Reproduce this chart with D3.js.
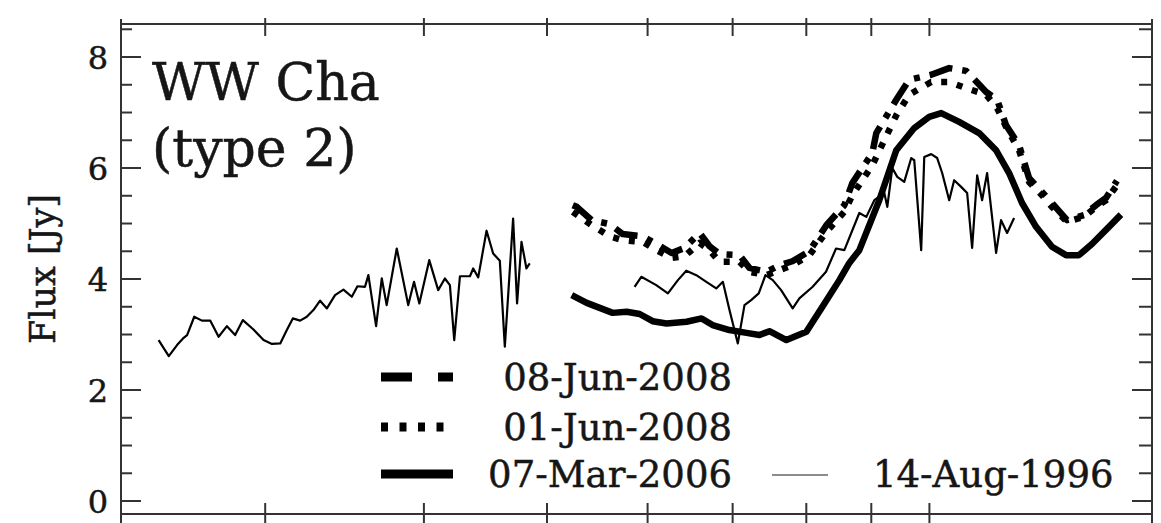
<!DOCTYPE html>
<html>
<head>
<meta charset="utf-8">
<script src="https://cdn.jsdelivr.net/npm/d3@7"></script>
<style>
  html, body { margin: 0; padding: 0; background: #fff; }
  svg { display: block; }
  text { font-family: "DejaVu Serif", "Liberation Serif", serif; fill: #161616; stroke: #161616; stroke-width: 0.5; }
</style>
</head>
<body>
<svg id="chart" width="1161" height="523"></svg>
<script>
// Mid-infrared spectra of WW Cha at four epochs: [wavelength (µm), flux (Jy)]
const aug1996a = [
  [2.473,2.90],[2.519,2.61],[2.557,2.81],[2.588,2.94],[2.604,2.99],[2.638,3.32],[2.675,3.25],
  [2.716,3.25],[2.757,2.96],[2.799,3.15],[2.841,2.99],[2.881,3.26],[2.937,3.09],[2.991,2.90],
  [3.037,2.83],[3.083,2.84],[3.120,3.08],[3.154,3.29],[3.196,3.25],[3.235,3.32],[3.274,3.44],
  [3.314,3.61],[3.355,3.47],[3.405,3.71],[3.457,3.81],[3.510,3.68],[3.546,3.87],[3.595,3.86],
  [3.617,4.07],[3.668,3.15],[3.706,4.01],[3.739,3.53],[3.808,4.55],[3.888,3.53],[3.929,3.95],
  [3.967,3.56],[4.039,4.34],[4.105,3.80],[4.155,4.01],[4.193,3.89],[4.226,2.90],[4.270,4.05],
  [4.348,4.05],[4.374,4.19],[4.414,4.03],[4.481,4.87],[4.535,4.46],[4.590,4.33],[4.632,2.78],
  [4.702,5.09],[4.736,3.56],[4.774,4.67],[4.817,4.19],[4.846,4.28]
];
const aug1996b = [
  [5.860,3.86],[5.932,4.04],[6.095,3.89],[6.225,3.74],[6.339,3.98],[6.436,4.15],[6.554,4.07],
  [6.674,3.95],[6.795,3.83],[6.877,3.95],[6.960,3.44],[7.066,2.84],[7.152,3.53],[7.239,3.62],
  [7.339,3.74],[7.429,4.07],[7.528,3.98],[7.643,3.80],[7.805,3.47],[7.900,3.65],[8.093,3.86],
  [8.291,4.13],[8.443,4.55],[8.571,4.52],[8.807,5.19],[8.919,5.12],[9.050,5.42],[9.215,5.55],
  [9.265,5.30],[9.349,6.00],[9.434,5.84],[9.554,5.75],[9.676,6.18],[9.729,6.14],[9.852,4.52],
  [9.907,6.20],[10.032,6.25],[10.142,6.18],[10.234,5.91],[10.365,5.42],[10.459,5.78],[10.592,5.66],
  [10.708,5.55],[10.805,4.56],[10.904,5.87],[11.002,5.42],[11.103,5.91],[11.285,4.47],[11.387,5.06],
  [11.512,4.83],[11.659,5.10]
];
const mar2006 = [
  [5.229,3.71],[5.373,3.57],[5.501,3.48],[5.632,3.39],[5.777,3.41],[5.914,3.37],[6.055,3.24],
  [6.210,3.20],[6.439,3.23],[6.617,3.29],[6.750,3.17],[6.960,3.08],[7.178,3.03],[7.349,2.99],
  [7.483,3.06],[7.717,2.90],[8.001,3.05],[8.237,3.50],[8.494,3.98],[8.649,4.29],[8.807,4.52],
  [9.131,5.42],[9.417,6.32],[9.729,6.72],[9.996,6.92],[10.216,6.99],[10.554,6.83],[10.943,6.63],
  [11.285,6.32],[11.554,5.91],[11.828,5.37],[12.133,4.94],[12.488,4.58],[12.810,4.43],[13.114,4.43],
  [13.426,4.63],[13.846,4.94],[14.150,5.16]
];
const jun2008a = [
  [5.239,5.33],[5.277,5.30],[5.422,5.06],[5.601,4.99],[5.735,4.81],[5.947,4.77],[6.099,4.63],
  [6.267,4.47],[6.416,4.56],[6.593,4.83],[6.713,4.59],[6.836,4.45],[7.088,4.43],[7.217,4.20],
  [7.443,4.13],[7.620,4.25],[7.801,4.32],[8.045,4.50],[8.296,4.97],[8.571,5.33],[8.696,5.73],
  [9.017,6.27],[9.082,6.63],[9.417,7.23],[9.641,7.59],[10.032,7.68],[10.365,7.80],[10.689,7.75],
  [11.083,7.37],[11.306,7.23],[11.491,6.77],[11.765,6.41],[11.979,5.82],[12.264,5.57],[12.488,5.37],
  [12.833,5.06],[13.234,5.15],[13.525,5.33],[13.772,5.46],[14.048,5.77]
];
const jun2008b = [
  [5.239,5.21],[5.422,4.97],[5.601,4.77],[5.735,4.70],[5.947,4.67],[6.099,4.52],[6.267,4.38],
  [6.416,4.41],[6.593,4.65],[6.713,4.52],[6.836,4.31],[7.088,4.31],[7.217,4.13],[7.443,4.07],
  [7.620,4.16],[7.801,4.25],[8.045,4.43],[8.296,4.85],[8.571,5.21],[8.696,5.51],[9.017,6.05],
  [9.417,6.95],[9.641,7.32],[10.032,7.55],[10.365,7.55],[10.689,7.44],[11.083,7.32],[11.306,7.08],
  [11.491,6.74],[11.765,6.32],[11.979,5.75],[12.264,5.51],[12.488,5.30],[12.833,5.03],[13.234,5.12],
  [13.525,5.30],[13.772,5.42],[14.048,5.69]
];

const wavelengthTicks = [3, 4, 5, 6, 7, 8, 9, 10];
const fluxTicks = [0, 2, 4, 6, 8];
const fluxMinorTicks = [-0.5,0.5,1,1.5,2.5,3,3.5,4.5,5,5.5,6.5,7,7.5,8.5];
const fluxTickLabels = ["0", "2", "4", "6", "8"];
const titleLines = ["WW Cha", "(type 2)"];
const yLabel = "Flux [Jy]";
const legendLabels = ["08-Jun-2008", "01-Jun-2008", "07-Mar-2006", "14-Aug-1996"];

const svg = d3.select("#chart");
const L = 121, R = 1152, T = 24, B = 514;

const x = d3.scaleLog().domain([2.31, 14.97]).range([L, R]);
const y = d3.scaleLinear().domain([-0.234, 8.595]).range([B, T]);

const axisColor = "#333";

// frame: vertical sides run past the panel, as in a stacked figure
const frame = svg.append("g").attr("stroke", axisColor).attr("stroke-width", 2).attr("fill", "none");
frame.append("line").attr("x1", L).attr("x2", L).attr("y1", 19).attr("y2", 523);
frame.append("line").attr("x1", R).attr("x2", R).attr("y1", 19).attr("y2", 523);
frame.append("line").attr("x1", L).attr("x2", R).attr("y1", T).attr("y2", T);
frame.append("line").attr("x1", L).attr("x2", R).attr("y1", B).attr("y2", B);

// wavelength ticks on top and bottom edges
const xt = svg.append("g").attr("stroke", axisColor).attr("stroke-width", 2);
wavelengthTicks.forEach(v => {
  xt.append("line").attr("x1", x(v)).attr("x2", x(v)).attr("y1", T - 6).attr("y2", T + 12);
  xt.append("line").attr("x1", x(v)).attr("x2", x(v)).attr("y1", B - 11).attr("y2", B + 9);
});

// flux ticks on left and right edges
const yt = svg.append("g").attr("stroke", axisColor).attr("stroke-width", 2);
fluxTicks.forEach(v => {
  yt.append("line").attr("x1", L).attr("x2", L + 20).attr("y1", y(v)).attr("y2", y(v));
  yt.append("line").attr("x1", R - 20).attr("x2", R).attr("y1", y(v)).attr("y2", y(v));
});
fluxMinorTicks.forEach(v => {
  yt.append("line").attr("x1", L).attr("x2", L + 11).attr("y1", y(v)).attr("y2", y(v));
  yt.append("line").attr("x1", R - 13).attr("x2", R).attr("y1", y(v)).attr("y2", y(v));
});

fluxTicks.forEach((v, i) => {
  svg.append("text").attr("x", 98).attr("y", y(v) + 12)
    .attr("text-anchor", "middle").attr("font-size", 32).text(fluxTickLabels[i]);
});

svg.append("text").attr("transform", "translate(55,269) rotate(-90)")
  .attr("text-anchor", "middle").attr("font-size", 35).text(yLabel);

svg.append("text").attr("x", 152).attr("y", 100).attr("font-size", 52).text(titleLines[0]);
svg.append("text").attr("x", 152).attr("y", 166).attr("font-size", 52).text(titleLines[1]);

// spectra
const line = d3.line().x(d => x(d[0])).y(d => y(d[1])).curve(d3.curveLinear);
const g = svg.append("g").attr("fill", "none").attr("stroke", "#000")
  .attr("stroke-linejoin", "round");

g.append("path").datum(aug1996a).attr("d", line).attr("stroke-width", 2.2);
g.append("path").datum(aug1996b).attr("d", line).attr("stroke-width", 2.2);
g.append("path").datum(mar2006).attr("d", line).attr("stroke-width", 6.5);
g.append("path").datum(jun2008b).attr("d", line).attr("stroke-width", 6.5)
  .attr("stroke-dasharray", "6,10");
g.append("path").datum(jun2008a).attr("d", line).attr("stroke-width", 6.5)
  .attr("stroke-dasharray", "24,10,6,10");

// legend
const lg = svg.append("g");
const legendRows = [
  { yLine: 377, yText: 390, dash: "31,26,15,40" },
  { yLine: 427, yText: 440, dash: "7,11.5" },
  { yLine: 474, yText: 487, dash: null }
];
legendRows.forEach((r, i) => {
  const ln = lg.append("line").attr("x1", 381).attr("x2", 453)
    .attr("y1", r.yLine).attr("y2", r.yLine)
    .attr("stroke", "#000").attr("stroke-width", 9);
  if (r.dash) ln.attr("stroke-dasharray", r.dash);
  lg.append("text").attr("x", 732).attr("y", r.yText).attr("text-anchor", "end")
    .attr("font-size", 37).text(legendLabels[i]);
});
lg.append("line").attr("x1", 772).attr("x2", 828).attr("y1", 475).attr("y2", 475)
  .attr("stroke", "#666").attr("stroke-width", 1.6);
lg.append("text").attr("x", 873).attr("y", 487).attr("font-size", 37).text(legendLabels[3]);
</script>
</body>
</html>
